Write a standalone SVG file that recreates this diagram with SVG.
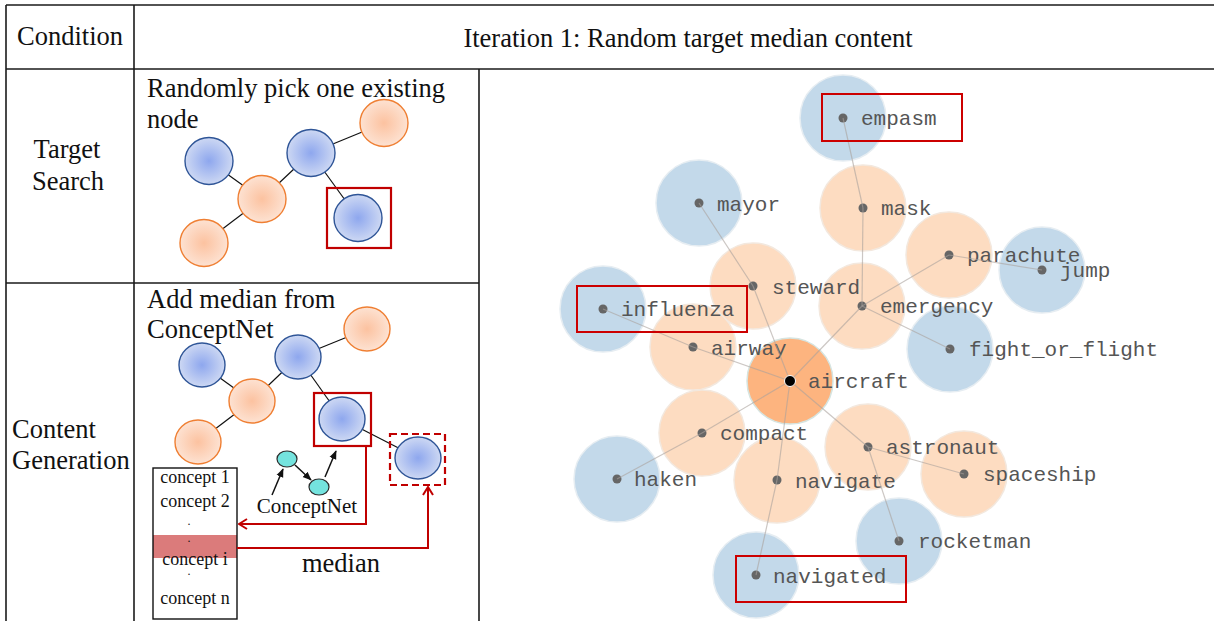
<svg xmlns="http://www.w3.org/2000/svg" width="1214" height="621" viewBox="0 0 1214 621">
  <defs>
    <style>
      .grid { stroke: #1a1a1a; stroke-width: 1.6; fill: none; }
      .serif { font-family: "Liberation Serif", "Times New Roman", serif; fill: #111; }
      .big { font-size: 26.5px; }
      .list { font-size: 18px; text-anchor: middle; }
      .ellip { font-size: 12px; text-anchor: middle; }
      .edge { stroke: #111; stroke-width: 1.2; }
      .bnode { fill: url(#blueGrad); stroke: #2f5597; stroke-width: 1.4; }
      .onode { fill: url(#orangeGrad); stroke: #ef7f33; stroke-width: 1.4; }
      .hl { fill: none; stroke: #c00000; stroke-width: 2.2; }
      .hl-dash { fill: none; stroke: #c00000; stroke-width: 2.2; stroke-dasharray: 7 4; }
      .red-arrow { fill: none; stroke: #c00000; stroke-width: 2; }
      .blk-arrow { stroke: #111; stroke-width: 1.5; fill: none; }
      .cn { fill: #74e3de; stroke: #2b2b2b; stroke-width: 1.2; }
      .halo-b { fill: #c3d9ea; stroke: #e6edf2; stroke-width: 1.5; }
      .halo-o { fill: #fddcc1; stroke: #f3e8de; stroke-width: 1.5; }
      .halo-c { fill: #fdb47f; stroke: #d6e4e0; stroke-width: 1.5; }
      .dot { fill: #666; }
      .lbl { font-family: "Liberation Mono", "Courier New", monospace; font-size: 21px; fill: #555; }
      .link { stroke: #aaa29c; stroke-opacity: 0.6; stroke-width: 1.2; }
      .box { fill: none; stroke: #cc0000; stroke-width: 2; }
    </style>
    <radialGradient id="blueGrad" cx="50%" cy="50%" r="50%">
      <stop offset="0%" stop-color="#8ea7ee"/>
      <stop offset="100%" stop-color="#cdd8f3"/>
    </radialGradient>
    <radialGradient id="orangeGrad" cx="50%" cy="50%" r="50%">
      <stop offset="0%" stop-color="#fcc2a0"/>
      <stop offset="100%" stop-color="#fde2d2"/>
    </radialGradient>
    <marker id="chevron" viewBox="0 0 10 12" markerWidth="10" markerHeight="12" refX="9" refY="6" orient="auto" markerUnits="userSpaceOnUse">
      <path d="M1,1 L9,6 L1,11" fill="none" stroke="#c00000" stroke-width="2"/>
    </marker>
    <marker id="tri" viewBox="0 0 10 8" markerWidth="9" markerHeight="8" refX="9" refY="4" orient="auto" markerUnits="userSpaceOnUse">
      <path d="M0,0 L10,4 L0,8 z" fill="#111"/>
    </marker>
  </defs>

  <rect width="1214" height="621" fill="#fff"/>

  <!-- table rules -->
  <g id="table">
    <line class="grid" x1="6" y1="5" x2="1214" y2="5"/>
    <line class="grid" x1="6" y1="69" x2="1214" y2="69"/>
    <line class="grid" x1="6" y1="5" x2="6" y2="621"/>
    <line class="grid" x1="134" y1="5" x2="134" y2="621"/>
    <line class="grid" x1="6" y1="283" x2="479" y2="283"/>
    <line class="grid" x1="479" y1="69" x2="479" y2="621"/>
  </g>

  <!-- table headings -->
  <g id="headings" class="serif big">
    <text x="70" y="45" text-anchor="middle">Condition</text>
    <text x="688" y="47" text-anchor="middle">Iteration 1: Random target median content</text>
    <text x="67" y="158" text-anchor="middle">Target</text>
    <text x="68" y="190" text-anchor="middle">Search</text>
    <text x="12" y="438">Content</text>
    <text x="12" y="469">Generation</text>
  </g>

  <!-- Target search sketch -->
  <g id="target-search">
    <text class="serif big" x="147" y="97">Randomly pick one existing</text>
    <text class="serif big" x="147" y="128">node</text>
    <g id="ts-edges">
      <line class="edge" x1="311" y1="153" x2="384" y2="123"/>
      <line class="edge" x1="311" y1="153" x2="262" y2="199"/>
      <line class="edge" x1="209" y1="161" x2="262" y2="199"/>
      <line class="edge" x1="262" y1="199" x2="204" y2="243"/>
      <line class="edge" x1="311" y1="153" x2="358" y2="218"/>
    </g>
    <g id="ts-n1"><ellipse class="onode" cx="384" cy="123" rx="24" ry="23.5"/></g>
    <g id="ts-n2"><ellipse class="bnode" cx="311" cy="153" rx="24" ry="23.5"/></g>
    <g id="ts-n3"><ellipse class="bnode" cx="209" cy="161" rx="24" ry="23.5"/></g>
    <g id="ts-n4"><ellipse class="onode" cx="262" cy="199" rx="24" ry="23.5"/></g>
    <g id="ts-n5"><ellipse class="onode" cx="204" cy="243" rx="24" ry="23.5"/></g>
    <g id="ts-n6"><ellipse class="bnode" cx="358" cy="218" rx="24" ry="23.5"/></g>
    <rect class="hl" x="327" y="188" width="64" height="60"/>
  </g>

  <!-- Content generation sketch -->
  <g id="content-generation">
    <text class="serif big" x="147" y="308">Add median from</text>
    <text class="serif big" x="147" y="338">ConceptNet</text>
    <g id="cg-edges">
      <line class="edge" x1="298" y1="357" x2="367" y2="329"/>
      <line class="edge" x1="298" y1="357" x2="252" y2="401"/>
      <line class="edge" x1="202" y1="365" x2="252" y2="401"/>
      <line class="edge" x1="252" y1="401" x2="198" y2="442"/>
      <line class="edge" x1="298" y1="357" x2="342" y2="419"/>
      <line class="edge" x1="342" y1="419" x2="418" y2="458"/>
    </g>
    <g id="cg-n1"><ellipse class="onode" cx="367" cy="329" rx="23" ry="22"/></g>
    <g id="cg-n2"><ellipse class="bnode" cx="298" cy="357" rx="23" ry="22"/></g>
    <g id="cg-n3"><ellipse class="bnode" cx="202" cy="365" rx="23" ry="22"/></g>
    <g id="cg-n4"><ellipse class="onode" cx="252" cy="401" rx="23" ry="22"/></g>
    <g id="cg-n5"><ellipse class="onode" cx="198" cy="442" rx="23" ry="22"/></g>
    <g id="cg-n6"><ellipse class="bnode" cx="342" cy="419" rx="23" ry="22"/></g>
    <g id="cg-new"><ellipse class="bnode" cx="418" cy="458" rx="23" ry="21"/></g>
    <rect class="hl" x="314" y="393" width="57" height="53"/>
    <rect class="hl-dash" x="390" y="434" width="55" height="51"/>

    <!-- ConceptNet mini graph -->
    <g id="conceptnet">
      <line class="blk-arrow" x1="272" y1="495" x2="283" y2="469" marker-end="url(#tri)"/>
      <line class="blk-arrow" x1="295" y1="465" x2="311" y2="480" marker-end="url(#tri)"/>
      <line class="blk-arrow" x1="325" y1="477" x2="336" y2="451" marker-end="url(#tri)"/>
      <ellipse class="cn" cx="287" cy="459" rx="10" ry="8"/>
      <ellipse class="cn" cx="319" cy="487" rx="10" ry="8"/>
      <text class="serif" x="307" y="513" font-size="21" text-anchor="middle">ConceptNet</text>
    </g>

    <!-- candidate concept list -->
    <g id="concept-list">
      <rect x="153" y="535" width="84" height="23" fill="#db7b7b"/>
      <rect x="153" y="468" width="84" height="151" fill="none" stroke="#111" stroke-width="1.4"/>
      <text class="serif list" x="195" y="483">concept 1</text>
      <text class="serif list" x="195" y="507">concept 2</text>
      <text class="serif ellip" x="189" y="525">.</text>
      <text class="serif ellip" x="189" y="542">.</text>
      <text class="serif list" x="195" y="565">concept i</text>
      <text class="serif ellip" x="189" y="575">.</text>
      <text class="serif list" x="195" y="604">concept n</text>
    </g>

    <!-- query and median arrows -->
    <path class="red-arrow" d="M366,446 V524 H239" marker-end="url(#chevron)"/>
    <path class="red-arrow" d="M237,548 H428 V487" marker-end="url(#chevron)"/>
    <text class="serif big" x="302" y="572">median</text>
  </g>

  <!-- concept graph: nodes ordered so every label sits above neighbouring discs -->
  <g id="concept-graph">
    <g id="node-jump">
      <circle class="halo-b" cx="1042" cy="270" r="43"/>
      <circle class="dot" cx="1042" cy="270" r="4.5"/>
      <text class="lbl" x="1060" y="277">jump</text>
    </g>
    <g id="node-parachute">
      <circle class="halo-o" cx="949" cy="255" r="43"/>
      <circle class="dot" cx="949" cy="255" r="4.5"/>
      <text class="lbl" x="967" y="262">parachute</text>
    </g>
    <g id="node-mask">
      <circle class="halo-o" cx="863" cy="208" r="43"/>
      <circle class="dot" cx="863" cy="208" r="4.5"/>
      <text class="lbl" x="881" y="215">mask</text>
    </g>
    <g id="node-empasm">
      <circle class="halo-b" cx="843" cy="118" r="43"/>
      <circle class="dot" cx="843" cy="118" r="4.5"/>
      <text class="lbl" x="861" y="125">empasm</text>
    </g>
    <g id="node-fight_or_flight">
      <circle class="halo-b" cx="950" cy="349" r="43"/>
      <circle class="dot" cx="950" cy="349" r="4.5"/>
      <text class="lbl" x="969" y="356">fight_or_flight</text>
    </g>
    <g id="node-emergency">
      <circle class="halo-o" cx="862" cy="306" r="43"/>
      <circle class="dot" cx="862" cy="306" r="4.5"/>
      <text class="lbl" x="880" y="313">emergency</text>
    </g>
    <g id="node-mayor">
      <circle class="halo-b" cx="699" cy="203" r="43"/>
      <circle class="dot" cx="699" cy="203" r="4.5"/>
      <text class="lbl" x="717" y="211">mayor</text>
    </g>
    <g id="node-steward">
      <circle class="halo-o" cx="753" cy="286" r="43"/>
      <circle class="dot" cx="753" cy="286" r="4.5"/>
      <text class="lbl" x="772" y="294">steward</text>
    </g>
    <g id="node-aircraft">
      <circle class="halo-c" cx="790" cy="381" r="43"/>
      <text class="lbl" x="808" y="388">aircraft</text>
    </g>
    <g id="node-airway">
      <circle class="halo-o" cx="693" cy="347" r="43"/>
      <circle class="dot" cx="693" cy="347" r="4.5"/>
      <text class="lbl" x="711" y="355">airway</text>
    </g>
    <g id="node-influenza">
      <circle class="halo-b" cx="603" cy="309" r="43"/>
      <circle class="dot" cx="603" cy="309" r="4.5"/>
      <text class="lbl" x="621" y="316">influenza</text>
    </g>
    <g id="node-spaceship">
      <circle class="halo-o" cx="964" cy="474" r="43"/>
      <circle class="dot" cx="964" cy="474" r="4.5"/>
      <text class="lbl" x="983" y="481">spaceship</text>
    </g>
    <g id="node-astronaut">
      <circle class="halo-o" cx="868" cy="447" r="43"/>
      <circle class="dot" cx="868" cy="447" r="4.5"/>
      <text class="lbl" x="886" y="454">astronaut</text>
    </g>
    <g id="node-rocketman">
      <circle class="halo-b" cx="899" cy="541" r="43"/>
      <circle class="dot" cx="899" cy="541" r="4.5"/>
      <text class="lbl" x="918" y="548">rocketman</text>
    </g>
    <g id="node-navigate">
      <circle class="halo-o" cx="777" cy="480" r="43"/>
      <circle class="dot" cx="777" cy="480" r="4.5"/>
      <text class="lbl" x="795" y="488">navigate</text>
    </g>
    <g id="node-compact">
      <circle class="halo-o" cx="702" cy="433" r="43"/>
      <circle class="dot" cx="702" cy="433" r="4.5"/>
      <text class="lbl" x="720" y="440">compact</text>
    </g>
    <g id="node-haken">
      <circle class="halo-b" cx="617" cy="479" r="43"/>
      <circle class="dot" cx="617" cy="479" r="4.5"/>
      <text class="lbl" x="634" y="486">haken</text>
    </g>
    <g id="node-navigated">
      <circle class="halo-b" cx="756" cy="575" r="43"/>
      <circle class="dot" cx="756" cy="575" r="4.5"/>
      <text class="lbl" x="773" y="583">navigated</text>
    </g>

    <g id="connectors">
      <line class="link" x1="790" y1="381" x2="753" y2="286"/>
      <line class="link" x1="753" y1="286" x2="699" y2="203"/>
      <line class="link" x1="790" y1="381" x2="862" y2="306"/>
      <line class="link" x1="862" y1="306" x2="863" y2="208"/>
      <line class="link" x1="863" y1="208" x2="843" y2="118"/>
      <line class="link" x1="862" y1="306" x2="949" y2="255"/>
      <line class="link" x1="949" y1="255" x2="1042" y2="270"/>
      <line class="link" x1="862" y1="306" x2="950" y2="349"/>
      <line class="link" x1="790" y1="381" x2="693" y2="347"/>
      <line class="link" x1="693" y1="347" x2="603" y2="309"/>
      <line class="link" x1="790" y1="381" x2="702" y2="433"/>
      <line class="link" x1="702" y1="433" x2="617" y2="479"/>
      <line class="link" x1="790" y1="381" x2="777" y2="480"/>
      <line class="link" x1="777" y1="480" x2="756" y2="575"/>
      <line class="link" x1="790" y1="381" x2="868" y2="447"/>
      <line class="link" x1="868" y1="447" x2="964" y2="474"/>
      <line class="link" x1="868" y1="447" x2="899" y2="541"/>
    </g>

    <!-- root marker sits above the links that meet it -->
    <circle id="root-dot" cx="790" cy="381" r="5.5" fill="#000" stroke="#fff" stroke-width="1"/>

    <g id="highlights">
      <rect class="box" x="822" y="94" width="140" height="47"/>
      <rect class="box" x="577" y="286" width="170" height="46"/>
      <rect class="box" x="736" y="556" width="170" height="46"/>
    </g>
  </g>
</svg>
